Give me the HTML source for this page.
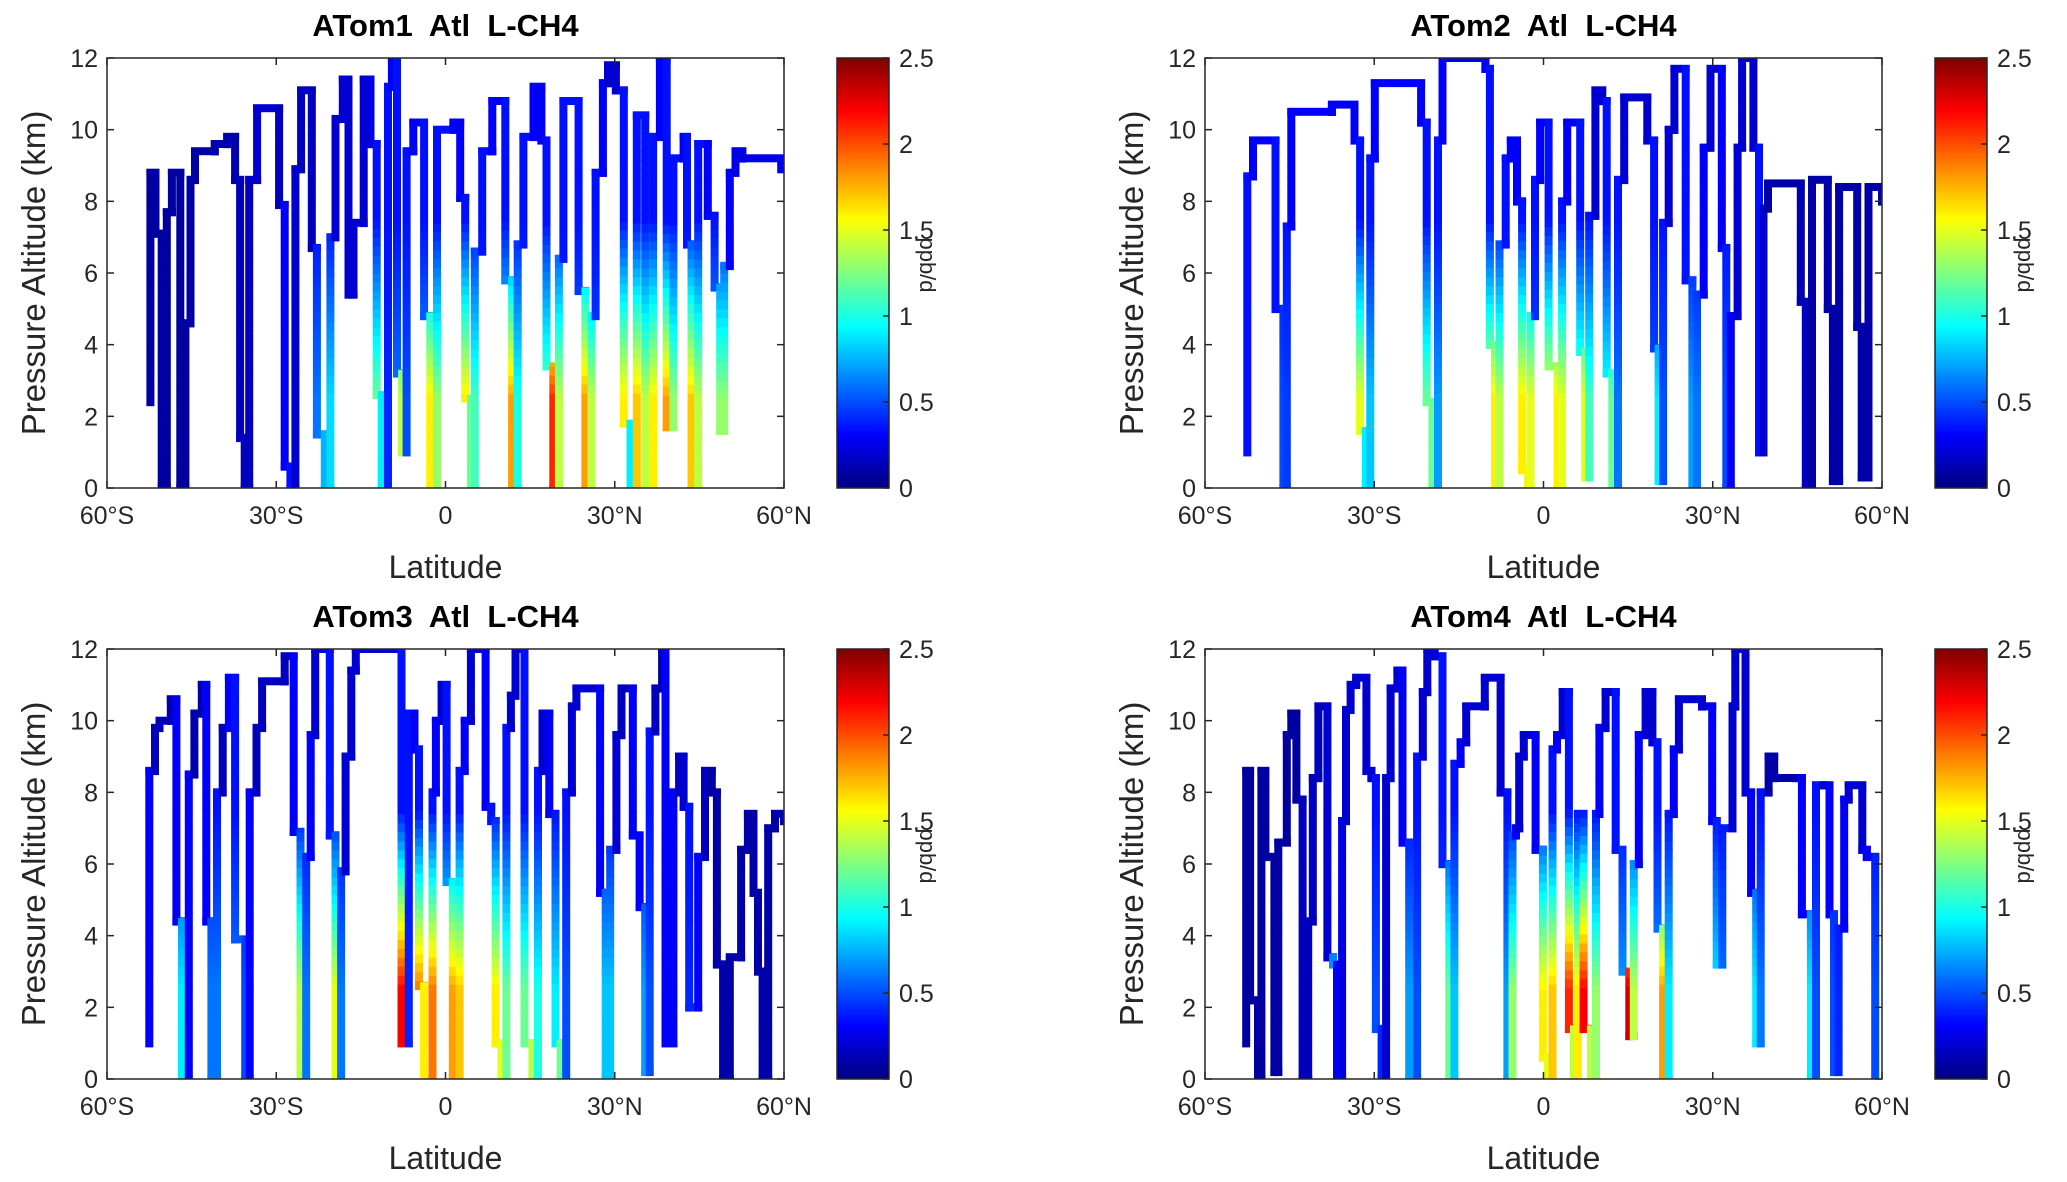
<!DOCTYPE html>
<html><head><meta charset="utf-8">
<style>
html,body{margin:0;padding:0;background:#fff;}
svg{display:block;font-family:"Liberation Sans",Arial,sans-serif;}
</style></head>
<body>
<svg id="fig" width="2067" height="1182" viewBox="0 0 2067 1182" xmlns="http://www.w3.org/2000/svg">
<defs>
<linearGradient id="jet" x1="0" y1="1" x2="0" y2="0">
<stop offset="0" stop-color="#000080"/><stop offset="0.125" stop-color="#0000ff"/><stop offset="0.375" stop-color="#00ffff"/><stop offset="0.625" stop-color="#ffff00"/><stop offset="0.875" stop-color="#ff0000"/><stop offset="1" stop-color="#800000"/>
</linearGradient>
</defs>
</svg>
<script>
// ---- data: latitude of each flight column, altitude turning points (km), low-altitude L-CH4 value (ppb/d)
const lats1=[-52.3,-51.4,-50.3,-49.4,-48.5,-47.0,-46.1,-45.2,-44.4,-40.9,-38.7,-37.3,-36.4,-35.6,-34.8,-33.4,-29.5,-28.5,-27.5,-26.6,-25.6,-23.7,-22.8,-21.4,-20.4,-19.5,-18.2,-17.2,-16.3,-14.5,-13.3,-12.2,-11.3,-10.2,-9.5,-8.6,-7.7,-6.9,-5.7,-3.8,-2.7,-1.5,1.4,2.6,3.5,4.5,5.2,6.5,8.3,10.6,11.8,12.8,13.8,15.6,17.0,17.9,19.1,20.1,20.9,23.6,24.8,25.9,26.6,27.9,28.8,30.2,31.6,32.8,33.9,35.4,36.8,38.0,39.2,40.4,42.2,42.8,43.6,44.8,46.5,47.7,48.7,49.4,50.4,51.4,52.6,59.5];
const alts1=[2.4,8.8,7.1,0,7.7,8.8,0,4.6,8.6,9.4,9.6,9.8,8.6,1.4,0,8.6,10.6,7.9,0.6,0,8.9,11.1,6.7,1.5,0,7.0,10.3,11.4,5.4,7.4,11.4,9.6,2.6,0,11.2,12,3.2,1.0,9.4,10.2,4.8,0,10.0,10.2,8.1,2.5,0,6.6,9.4,10.8,5.8,0,6.8,9.8,11.2,9.7,3.4,0,6.4,10.8,5.5,0,4.8,8.8,11.3,11.8,11.1,1.8,0,10.4,0,9.8,12,1.7,9.2,9.8,6.8,0,9.6,7.6,5.6,1.6,6.2,8.8,9.4,9.2,8.9];
const vals1=[.08,.08,.08,.08,.08,.08,.08,.1,.1,.12,.12,.12,.15,.15,.15,.2,.15,.3,.35,.2,.15,.15,.6,.75,.85,.2,.2,.2,.2,.2,.25,1.2,.9,.4,.3,.6,1.4,.5,.3,.7,1.6,1.3,.3,.3,1.6,1.2,1.1,.4,.3,1.2,1.8,1.0,.5,.3,.3,1.2,2.1,1.4,.4,.6,1.8,1.4,.5,.3,.2,.2,1.6,.9,1.7,1.4,1.6,.3,1.8,1.3,.3,.5,1.7,1.4,.3,.8,1.3,1.3,.3,.25,.25,.25];

const lats2=[-52.5,-51.5,-47.5,-46.1,-45.5,-44.7,-37.5,-33.5,-32.5,-31.5,-30.7,-29.9,-21.7,-20.7,-19.7,-18.7,-17.9,-10.3,-9.5,-8.6,-7.8,-6.7,-5.8,-4.7,-3.8,-2.7,-2.3,-1.5,-0.6,0.9,2.5,3.3,4.2,6.5,7.4,8.1,9.2,10.4,11.2,12.2,13.2,14.3,18.4,19.6,20.4,21.2,22.2,23.2,25.2,26.4,27.2,28.4,29.6,31.6,32.4,33.2,34.4,35.2,37.2,38.2,39.0,39.8,45.6,46.5,47.6,50.4,51.3,52.4,55.6,56.4,57.6,60];
const alts2=[1.0,8.7,9.7,5.0,0,7.3,10.5,10.7,9.7,1.6,0,9.2,11.3,10.2,2.4,0,9.7,12,11.7,4.0,0,6.8,9.2,9.7,8.0,0.5,0,4.8,8.6,10.2,3.4,0,8.0,10.2,3.8,0.3,7.6,11.1,10.8,3.2,0,8.6,10.9,9.7,3.9,0.2,7.4,10.0,11.7,5.8,0,5.4,9.5,11.7,6.7,0,4.8,9.5,12,9.5,1.0,7.8,8.5,5.2,0,8.6,5.0,0.2,8.4,4.5,0.3,8.4,8.0];
const vals2=[.35,.3,.35,.5,.45,.3,.3,.3,1.5,.9,.8,.3,.3,1.2,1.2,.7,.3,.3,1.5,1.6,1.4,.4,.3,.3,1.6,1.6,1.5,.5,.3,1.5,1.6,1.5,.3,1.2,1.5,1.1,.2,.2,1.0,1.2,.6,.2,.2,.5,.9,.5,.2,.2,.4,.7,.6,.3,.2,.3,.5,.3,.2,.2,.2,.35,.2,.1,.12,.15,.1,.1,.1,.1,.1,.1,.1,.1];

const lats3=[-52.5,-51.5,-50.7,-48.7,-47.7,-46.7,-45.5,-44.5,-43.2,-42.4,-41.5,-40.5,-39.5,-38.4,-37.3,-35.5,-34.7,-33.5,-32.5,-28.5,-26.9,-25.7,-24.7,-23.9,-23.1,-20.5,-19.5,-18.5,-17.7,-16.7,-15.9,-7.8,-6.5,-5.5,-4.7,-3.8,-2.3,-1.7,-0.7,0.2,1.3,2.5,3.4,4.5,7.1,8.1,8.9,9.9,10.8,11.6,12.4,14.0,15.4,16.4,17.2,18.4,19.5,20.4,21.4,22.4,23.2,27.4,28.4,29.2,30.3,31.2,33.2,34.4,35.4,36.2,37.2,38.4,39.0,40.4,41.4,42.2,43.2,44.8,46.0,47.2,48.1,49.2,50.4,52.4,53.6,54.6,55.4,56.2,57.2,58.4,60];
const alts3=[1.0,8.6,9.8,10.0,10.6,4.4,0,8.5,10.2,11.0,4.4,0,8.0,9.8,11.2,3.9,0,8.0,9.8,11.1,11.8,6.9,0,6.2,9.6,12,6.8,0,5.8,9.0,11.4,12,1.0,10.2,9.2,2.6,0,8.0,10.0,11.0,5.5,0,8.6,10.0,12,7.6,7.2,1.0,0,9.8,10.7,12,1.0,0,8.6,10.2,7.4,1.0,0,8.0,10.4,10.9,5.2,0,6.4,9.6,10.9,6.8,4.8,0.2,9.7,10.9,12,1.0,8.0,9.0,7.6,2.0,6.2,8.6,8.0,3.2,0,3.4,6.4,7.4,5.2,3.0,0,7.0,7.4,7.2];
const vals3=[.3,.15,.12,.12,.3,.9,.3,.12,.1,.3,.6,.6,.15,.3,.6,.5,.3,.15,.15,.15,.3,1.4,.6,.3,.2,.5,1.5,.6,.2,.2,.2,2.2,.4,.3,1.9,1.6,1.9,.3,.2,1.2,1.8,1.7,.3,.2,.3,.5,1.6,1.5,1.2,.2,.2,1.2,1.4,1.0,.2,.3,.9,1.2,.5,.2,.2,.3,.8,.8,.2,.15,.3,.3,.7,.5,.15,.1,.3,.3,.15,.2,.4,.3,.15,.1,.1,.1,.1,.1,.1,.1,.1,.1,.1,.1,.1];

const lats4=[-52.7,-52.0,-50.6,-50.0,-49.3,-47.7,-47.0,-45.5,-44.7,-43.8,-42.7,-41.7,-40.9,-39.9,-38.3,-37.3,-36.6,-35.7,-35.0,-34.2,-33.2,-31.4,-30.5,-29.7,-28.7,-27.9,-27.1,-25.9,-25.0,-23.8,-22.4,-21.4,-20.6,-19.3,-17.9,-16.7,-15.8,-14.7,-13.7,-10.4,-7.6,-6.4,-5.5,-4.9,-4.3,-3.5,-1.4,-0.1,0.8,1.6,2.4,3.4,4.5,5.4,6.1,7.1,8.4,9.3,9.9,11.0,12.8,14.0,15.2,16.0,16.9,18.1,19.3,20.2,21.2,22.2,23.1,24.0,28.1,29.9,30.7,31.7,33.5,34.0,35.8,36.8,37.7,38.5,39.9,40.9,44.7,45.8,47.4,48.3,49.6,50.7,51.5,52.3,53.3,54.1,56.5,57.3,58.8];
const alts4=[1.0,8.6,2.2,0,8.6,6.2,0.2,6.6,9.6,10.2,7.8,0,4.4,8.4,10.4,3.4,3.2,0,7.2,10.3,11.0,11.2,8.6,8.4,1.4,0,8.4,10.9,11.4,6.6,0,9.0,10.8,12,11.8,6.0,0,8.8,9.4,10.4,11.2,8.0,0,6.8,7.0,9.0,9.6,6.4,0.6,0,9.2,9.6,10.8,1.4,0,7.4,1.4,0,7.4,9.8,10.8,6.4,3.0,1.2,6.0,9.6,10.8,9.4,4.2,0,7.4,9.2,10.6,10.4,7.2,3.2,7.0,10.4,12,8.0,5.2,1.0,8.0,9.0,8.4,8.4,4.6,0,8.2,8.2,4.6,0.2,4.2,7.8,8.2,6.4,6.2,0];
const vals4=[.08,.08,.08,.08,.08,.08,.08,.08,.08,.08,.15,.15,.15,.15,.2,.7,.3,.25,.2,.2,.2,.2,.2,.5,.4,.2,.2,.2,.3,.7,.5,.2,.2,.2,.5,1.2,.8,.3,.2,.2,.2,.7,1.3,.3,.2,.2,.3,1.6,1.5,1.7,.3,.2,2.1,1.4,1.6,2.2,1.4,1.3,.3,.2,.4,.7,2.3,1.4,.3,.2,.2,.7,1.8,.9,.3,.2,.2,.3,.9,.6,.2,.2,.2,.3,.9,.6,.1,.1,.1,.3,.9,.5,.2,.3,.5,.4,.3,.2,.2,.3,.5];

const titles=['ATom1  Atl  L-CH4','ATom2  Atl  L-CH4','ATom3  Atl  L-CH4','ATom4  Atl  L-CH4'];
const xTickVals=[-60,-30,0,30,60];
const xTickLabels=['60°S','30°S','0','30°N','60°N'];
const yTickVals=[0,2,4,6,8,10,12];
const cbTickVals=[0,0.5,1,1.5,2,2.5];
const cbTickLabels=['0','0.5','1','1.5','2','2.5'];

const NS='http://www.w3.org/2000/svg';
const svg=document.getElementById('fig');
function mk(tag,attrs,parent){const e=document.createElementNS(NS,tag);for(const k in attrs)e.setAttribute(k,attrs[k]);(parent||svg).appendChild(e);return e;}
function jet(v){const t=Math.max(0,Math.min(1,v/2.5));const c=x=>Math.round(255*Math.max(0,Math.min(1,1.5-Math.abs(4*t-x))));return `rgb(${c(3)},${c(2)},${c(1)})`;}
function valAt(vb,h){const top=Math.min(vb,0.35);const f=Math.max(0,Math.min(1,(h-2.5)/5));return vb+(top-vb)*f;}

const W=677,H=430;
const panels=[
 {lats:lats1,alts:alts1,vals:vals1,x0:107,y0:58},
 {lats:lats2,alts:alts2,vals:vals2,x0:1205,y0:58},
 {lats:lats3,alts:alts3,vals:vals3,x0:107,y0:649},
 {lats:lats4,alts:alts4,vals:vals4,x0:1205,y0:649}];

panels.forEach((p,pi)=>{
 const X=lat=>p.x0+(lat+60)/120*W;
 const Y=alt=>p.y0+H-alt/12*H;
 const g=mk('g',{});
 
 
 const cp=mk('clipPath',{id:'clip'+pi},g);
 mk('rect',{x:p.x0,y:p.y0,width:W,height:H},cp);
 const marks=mk('g',{'clip-path':`url(#clip${pi})`},g);
 
 
 const step=0.25;
 for(let i=0;i<p.lats.length;i++){
  const a=p.alts[i],b=p.alts[i+1];const lo=Math.min(a,b),hi=Math.max(a,b);const xc=X(p.lats[i]);
  for(let h=lo-0.1;h<hi+0.1;h+=step){
   const h2=Math.min(h+step,hi+0.1);
   const r=mk('rect',{x:(xc-4).toFixed(1),y:Y(h2).toFixed(1),width:8,height:(Y(h)-Y(h2)+0.6).toFixed(1),fill:jet(valAt(p.vals[i],(h+h2)/2))},marks);
   
   
  }
  if(i+1<p.lats.length){
   const x1=X(p.lats[i]),x2=X(p.lats[i+1]);
   const hz=mk('rect',{x:(Math.min(x1,x2)-4).toFixed(1),y:(Y(b)-4).toFixed(1),width:(Math.abs(x2-x1)+8).toFixed(1),height:8,fill:jet(valAt(p.vals[i],b))},marks);
   
   
  }
 }
 const box=mk('rect',{x:p.x0,y:p.y0,width:W,height:H,fill:'none',stroke:'#262626','stroke-width':1.5},g);
 
 
 xTickVals.forEach((v,k)=>{
  const x=X(v);
  mk('line',{x1:x,y1:p.y0+H,x2:x,y2:p.y0+H-7,stroke:'#262626','stroke-width':1.5},g);
  mk('line',{x1:x,y1:p.y0,x2:x,y2:p.y0+7,stroke:'#262626','stroke-width':1.5},g);
  const t=mk('text',{x:x,y:p.y0+H+36,'text-anchor':'middle','font-size':25,fill:'#262626'},g);
  t.textContent=xTickLabels[k];
  
  
 });
 yTickVals.forEach(v=>{
  const y=Y(v);
  mk('line',{x1:p.x0,y1:y,x2:p.x0+7,y2:y,stroke:'#262626','stroke-width':1.5},g);
  mk('line',{x1:p.x0+W,y1:y,x2:p.x0+W-7,y2:y,stroke:'#262626','stroke-width':1.5},g);
  const t=mk('text',{x:p.x0-9,y:y+9,'text-anchor':'end','font-size':25,fill:'#262626'},g);
  t.textContent=String(v);
  
  
 });
 const tt=mk('text',{x:p.x0+W/2,y:p.y0-22,'text-anchor':'middle','font-size':31,'font-weight':'bold',fill:'#000',style:'white-space:pre'},g);
 tt.textContent=titles[pi];
 
 
 const xl=mk('text',{x:p.x0+W/2,y:p.y0+H+90,'text-anchor':'middle','font-size':32,fill:'#262626'},g);
 xl.textContent='Latitude';
 
 
 const yl=mk('text',{x:0,y:0,'text-anchor':'middle','font-size':33,fill:'#262626',transform:`translate(${p.x0-62},${p.y0+H/2}) rotate(-90)`},g);
 yl.textContent='Pressure Altitude (km)';
 
 
 const cbx=p.x0+730,cbw=52;
 const cb=mk('rect',{x:cbx,y:p.y0,width:cbw,height:H,fill:'url(#jet)',stroke:'#262626','stroke-width':1.5},g);
 
 
 cbTickVals.forEach((v,k)=>{
  const y=p.y0+H-v/2.5*H;
  mk('line',{x1:cbx+cbw,y1:y,x2:cbx+cbw-6,y2:y,stroke:'#262626','stroke-width':1.5},g);
  const t=mk('text',{x:cbx+cbw+10,y:y+9,'font-size':25,fill:'#262626'},g);
  t.textContent=cbTickLabels[k];
  
  
 });
 const cl=mk('text',{x:0,y:0,'text-anchor':'middle','font-size':22,fill:'#262626',transform:`translate(${cbx+83},${p.y0+H/2-8}) rotate(90)`},g);
 cl.textContent='ppb/d';
 
 
});
</script>
</body></html>
